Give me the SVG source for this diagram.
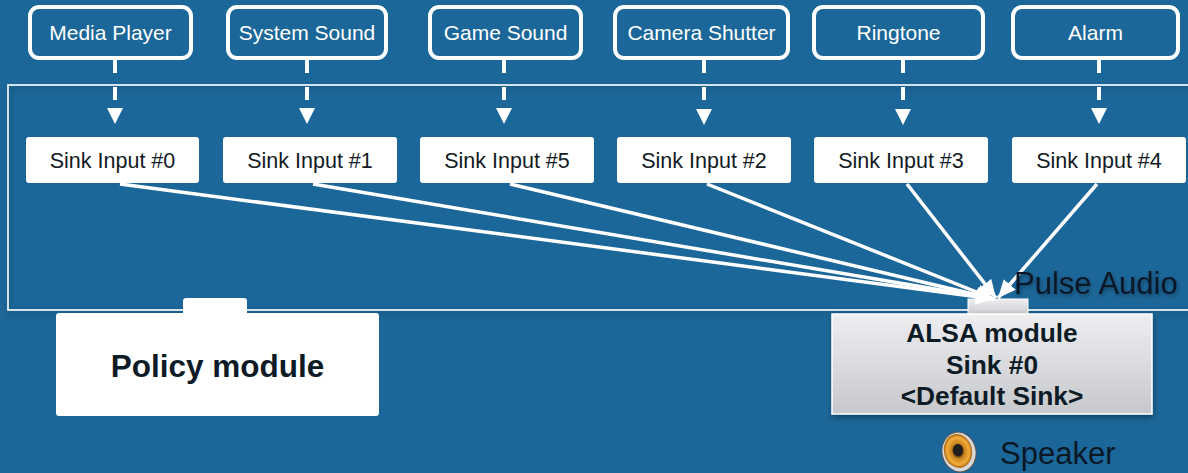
<svg xmlns="http://www.w3.org/2000/svg" width="1188" height="473" viewBox="0 0 1188 473">
<defs>
<style>
.src rect{fill:none;stroke:#fff;stroke-width:4}
.src text{font-family:"Liberation Sans",Arial,sans-serif;font-size:21px;fill:#fff;text-anchor:middle}
.sink rect{fill:#fff}
.sink text{font-family:"Liberation Sans",Arial,sans-serif;font-size:21.5px;fill:#121a24;text-anchor:middle}
.dash{stroke:#fff;stroke-width:4;stroke-dasharray:13 14;fill:none}
.head{fill:#fff}
.conn{stroke:#fff;stroke-width:3.5;fill:none;marker-end:url(#arr)}
.bold{font-family:"Liberation Sans",Arial,sans-serif;font-weight:bold;fill:#0d1b26;text-anchor:middle}
.lbl{font-family:"Liberation Sans",Arial,sans-serif;font-size:31px;fill:#0a1826}
</style>
<marker id="arr" markerUnits="userSpaceOnUse" markerWidth="20" markerHeight="16" viewBox="0 0 20 16" refX="18" refY="8" orient="auto">
<path d="M0,0 L18,8 L0,16 Z" fill="#fff"/>
</marker>
<linearGradient id="gray" x1="0" y1="0" x2="0" y2="1">
<stop offset="0" stop-color="#eeeef1"/>
<stop offset="1" stop-color="#c6c8cc"/>
</linearGradient>
<radialGradient id="cone" cx="0.5" cy="0.5" r="0.5">
<stop offset="0" stop-color="#2a2418"/>
<stop offset="0.3" stop-color="#4a3412"/>
<stop offset="0.45" stop-color="#c8821c"/>
<stop offset="0.8" stop-color="#f3ad3c"/>
<stop offset="1" stop-color="#a86410"/>
</radialGradient>
<filter id="sh" x="-10%" y="-10%" width="120%" height="130%">
<feDropShadow dx="1" dy="3" stdDeviation="3" flood-color="#000" flood-opacity="0.35"/>
</filter>
<filter id="tsh" x="-10%" y="-20%" width="120%" height="150%">
<feDropShadow dx="1" dy="2" stdDeviation="2" flood-color="#000" flood-opacity="0.4"/>
</filter>
</defs>
<rect x="0" y="0" width="1188" height="473" fill="#1c6799"/>

<rect id="pulse-frame" x="8" y="85" width="1200" height="225" fill="none" stroke="#fff" stroke-width="1.6" filter="url(#sh)"/>

<g id="media-player" class="src"><rect x="30" y="7" width="161" height="51" rx="9"/><text x="110.5" y="40">Media Player</text></g>
<g id="system-sound" class="src"><rect x="228" y="7" width="158" height="51" rx="9"/><text x="307" y="40">System Sound</text></g>
<g id="game-sound" class="src"><rect x="430" y="7" width="151" height="51" rx="9"/><text x="505.5" y="40">Game Sound</text></g>
<g id="camera-shutter" class="src"><rect x="615" y="7" width="173" height="51" rx="9"/><text x="701.5" y="40">Camera Shutter</text></g>
<g id="ringtone" class="src"><rect x="814" y="7" width="169" height="51" rx="9"/><text x="898.5" y="40">Ringtone</text></g>
<g id="alarm" class="src"><rect x="1013" y="7" width="165" height="51" rx="9"/><text x="1095.5" y="40">Alarm</text></g>

<g id="sink-input-0" class="sink"><rect x="26" y="137" width="173" height="46" rx="3"/><text x="112.5" y="167.5">Sink Input #0</text></g>
<g id="sink-input-1" class="sink"><rect x="223" y="137" width="174" height="46" rx="3"/><text x="310" y="167.5">Sink Input #1</text></g>
<g id="sink-input-5" class="sink"><rect x="420" y="137" width="174" height="46" rx="3"/><text x="507" y="167.5">Sink Input #5</text></g>
<g id="sink-input-2" class="sink"><rect x="617" y="137" width="174" height="46" rx="3"/><text x="704" y="167.5">Sink Input #2</text></g>
<g id="sink-input-3" class="sink"><rect x="814" y="137" width="174" height="46" rx="3"/><text x="901" y="167.5">Sink Input #3</text></g>
<g id="sink-input-4" class="sink"><rect x="1012" y="137" width="174" height="46" rx="3"/><text x="1099" y="167.5">Sink Input #4</text></g>

<g id="policy-module">
<rect x="183" y="298" width="64" height="20" rx="3" fill="#fff"/>
<rect x="56" y="313" width="323" height="103" rx="3" fill="#fff"/>
<text class="bold" x="217.5" y="377" font-size="31.5">Policy module</text>
</g>

<g id="alsa-module">
<rect x="968" y="299" width="60" height="18" fill="url(#gray)" stroke="#fff" stroke-width="1"/>
<rect x="832" y="314" width="320" height="100" fill="url(#gray)" stroke="#fff" stroke-width="1.5" filter="url(#sh)"/>
<text class="bold" x="992" y="342" font-size="26.3">ALSA module</text>
<text class="bold" x="992" y="374" font-size="26.3">Sink #0</text>
<text class="bold" x="992" y="405" font-size="26.3">&lt;Default Sink&gt;</text>
</g>

<g id="connectors">
<line class="dash" x1="115" y1="60" x2="115" y2="107"/><polygon class="head" points="107,108 123,108 115,124"/>
<line class="dash" x1="307" y1="60" x2="307" y2="107"/><polygon class="head" points="299,108 315,108 307,124"/>
<line class="dash" x1="504" y1="60" x2="504" y2="107"/><polygon class="head" points="496,108 512,108 504,124"/>
<line class="dash" x1="704" y1="60" x2="704" y2="107"/><polygon class="head" points="696,109 712,109 704,125"/>
<line class="dash" x1="903" y1="60" x2="903" y2="107"/><polygon class="head" points="895,109 911,109 903,125"/>
<line class="dash" x1="1099" y1="60" x2="1099" y2="107"/><polygon class="head" points="1091,108 1107,108 1099,124"/>
<path class="conn" d="M120,184 L994,299"/>
<path class="conn" d="M313,184 L994,299"/>
<path class="conn" d="M510,184 L994,299"/>
<path class="conn" d="M707,184 L994,299"/>
<path class="conn" d="M907,184 L996,298"/>
<path class="conn" d="M1097,184 L998,298"/>
</g>

<text id="pulse-audio-label" class="lbl" x="1014" y="294" filter="url(#tsh)">Pulse Audio</text>

<g id="speaker">
<ellipse cx="959" cy="452" rx="17" ry="20" transform="rotate(-12 959 452)" fill="#d8d8d8" stroke="#555" stroke-width="1"/>
<ellipse cx="958" cy="451" rx="14" ry="17" transform="rotate(-12 958 451)" fill="url(#cone)"/>
<ellipse cx="958" cy="450" rx="5" ry="6" fill="#1e1e1e"/>
<text class="lbl" x="1000" y="464">Speaker</text>
</g>
</svg>
